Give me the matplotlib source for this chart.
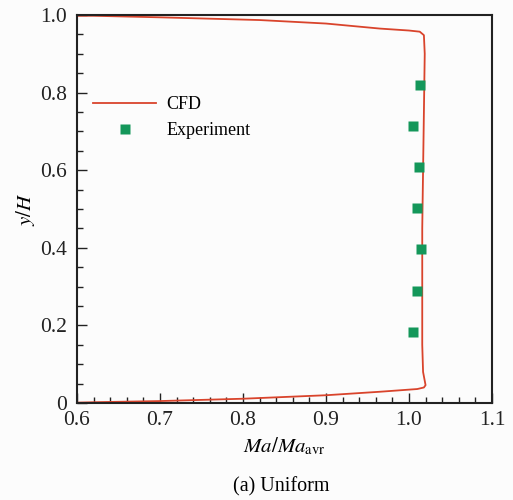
import matplotlib.pyplot as plt
from matplotlib.ticker import MultipleLocator, FixedFormatter, FixedLocator

plt.rcParams['font.family'] = ['Liberation Serif', 'DejaVu Serif']
plt.rcParams['mathtext.fontset'] = 'stix'

# CFD profile (Ma/Ma_avr, y/H), traced from top wall to bottom wall
cfd_x = [0.600, 0.620, 0.700, 0.820, 0.900, 0.965, 1.000, 1.013, 1.018, 1.019,
         1.018, 1.017, 1.016, 1.016, 1.016, 1.017, 1.020, 1.018, 1.010, 0.965,
         0.900, 0.800, 0.700, 0.620, 0.600]
cfd_y = [0.998, 0.998, 0.994, 0.987, 0.978, 0.965, 0.960, 0.957, 0.948, 0.900,
         0.750, 0.600, 0.450, 0.300, 0.150, 0.080, 0.046, 0.040, 0.036, 0.029,
         0.020, 0.011, 0.005, 0.002, 0.001]

# Experiment points
exp_x = [1.013, 1.005, 1.012, 1.010, 1.0145, 1.0096, 1.005]
exp_y = [0.820, 0.714, 0.607, 0.502, 0.396, 0.289, 0.184]

fig = plt.figure(figsize=(5.13, 5.0), dpi=100, facecolor='#fcfcfc')
ax = fig.add_axes([0.150, 0.194, 0.809, 0.776])
ax.set_facecolor('#fcfcfc')

ax.plot(cfd_x, cfd_y, color='#d9442c', lw=1.3, label='CFD')
ax.plot(exp_x, exp_y, 's', color='#14975a', ms=7.5, mec='none',
        linestyle='none', label='Experiment')

ax.set_xlim(0.6, 1.1)
ax.set_ylim(0, 1.0)
ax.xaxis.set_major_locator(MultipleLocator(0.1))
ax.xaxis.set_minor_locator(MultipleLocator(0.02))
ax.yaxis.set_major_locator(FixedLocator([0, 0.2, 0.4, 0.6, 0.8, 1.0]))
ax.yaxis.set_major_formatter(FixedFormatter(['0', '0.2', '0.4', '0.6', '0.8', '1.0']))
ax.yaxis.set_minor_locator(MultipleLocator(0.05))
ax.tick_params(which='both', direction='in', top=False, right=False,
               labelsize=15.5, width=1.0, colors='#222222')
ax.tick_params(which='major', length=7)
ax.tick_params(which='minor', length=4)
ax.tick_params(axis='x', pad=6)
ax.tick_params(axis='y', pad=7)
for s in ax.spines.values():
    s.set_linewidth(1.5)
    s.set_color('#222222')

ax.set_xlabel(r'$\mathit{Ma}/\mathit{Ma}_{\mathrm{avr}}$', fontsize=15, labelpad=4)
ax.set_ylabel(r'$\mathit{y}/\mathit{H}$', fontsize=15, labelpad=2)

ax.legend(loc='upper left', bbox_to_anchor=(0.0, 0.832), frameon=False,
          fontsize=13, handlelength=3.5, handletextpad=0.55, labelspacing=0.5)

fig.text(0.548, 0.026, '(a) Uniform', ha='center', va='center', fontsize=14.5)

fig.savefig('out.png', dpi=100, facecolor=fig.get_facecolor())
